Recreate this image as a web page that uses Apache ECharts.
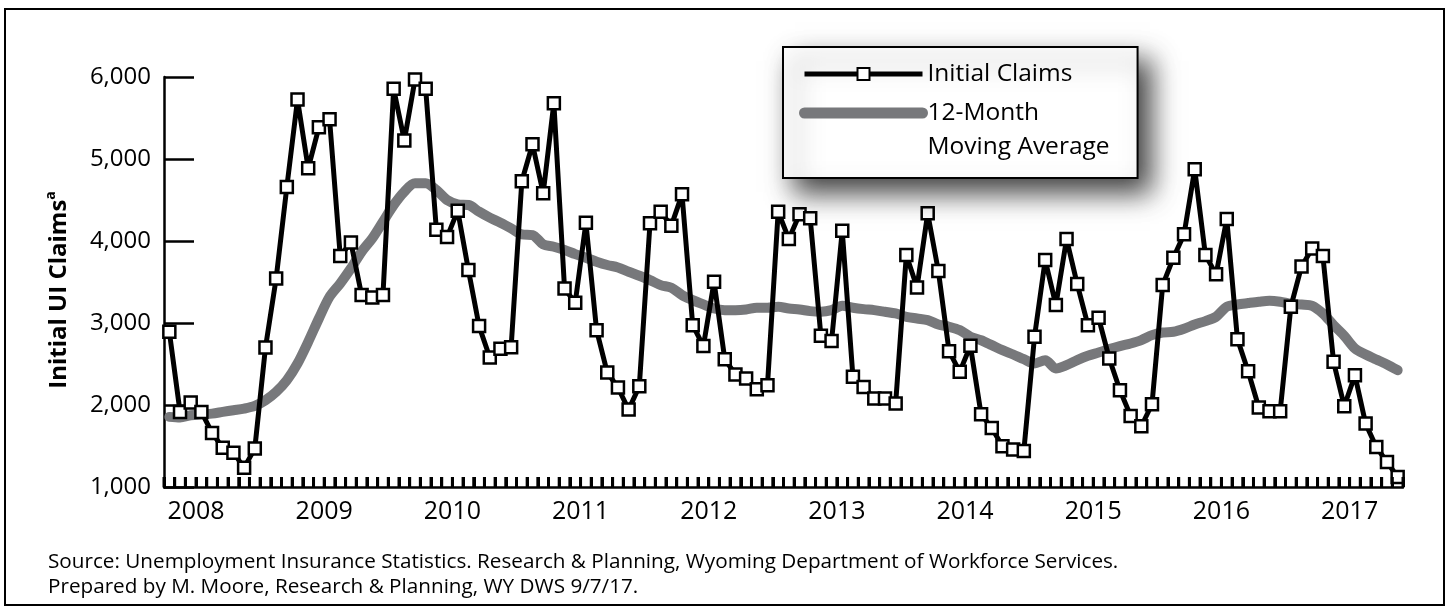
<!DOCTYPE html>
<html>
<head>
<meta charset="utf-8">
<script src="https://cdn.jsdelivr.net/npm/echarts@6/dist/echarts.min.js"></script>
<style>
  html, body { margin: 0; padding: 0; background: #fff; }
  #chart { width: 1450px; height: 612px; }
</style>
</head>
<body>
<div id="chart"></div>
<script>
// monthly series, Oct 2007 .. May 2017
const startYear = 2007
const startMonth = 10
const yearLabels = ['2008', '2009', '2010', '2011', '2012', '2013', '2014', '2015', '2016', '2017']

const initialClaims = [
  2893, 1916, 2030,
  1916, 1659, 1480, 1419, 1236, 1468, 2701, 3544, 4659, 5725, 4887, 5387,
  5485, 3816, 3983, 3340, 3312, 3340, 5856, 5225, 5970, 5856, 4138, 4048,
  4370, 3646, 2962, 2579, 2685, 2705, 4728, 5180, 4582, 5681, 3422, 3247,
  4223, 2913, 2396, 2213, 1944, 2229, 4215, 4358, 4187, 4569, 2974, 2718,
  3503, 2559, 2372, 2323, 2193, 2241, 4358, 4024, 4325, 4276, 2844, 2779,
  4126, 2343, 2221, 2079, 2079, 2018, 3829, 3434, 4337, 3633, 2656, 2404,
  2722, 1887, 1720, 1497, 1456, 1440, 2832, 3768, 3218, 4024, 3475, 2974,
  3063, 2567, 2180, 1867, 1741, 2009, 3462, 3796, 4081, 4875, 3829, 3593,
  4268, 2803, 2412, 1969, 1924, 1924, 3198, 3690, 3910, 3816, 2526, 1985,
  2363, 1773, 1488, 1305, 1122
]

const movingAverage = [
  1855, 1847, 1875,
  1887, 1895, 1916, 1936, 1956, 1989, 2058, 2160, 2302, 2506, 2770, 3055,
  3320, 3483, 3666, 3869, 4032, 4236, 4439, 4602, 4704, 4704, 4622, 4500,
  4447, 4439, 4358, 4285, 4223, 4154, 4081, 4073, 3959, 3930, 3890, 3840,
  3796, 3747, 3707, 3678, 3625, 3576, 3523, 3462, 3430, 3340, 3279, 3226,
  3177, 3157, 3157, 3165, 3186, 3186, 3198, 3177, 3165, 3145, 3137, 3157,
  3210, 3186, 3169, 3157, 3137, 3116, 3076, 3055, 3035, 2982, 2954, 2913,
  2832, 2790, 2730, 2669, 2616, 2559, 2506, 2547, 2445, 2486, 2547, 2600,
  2640, 2681, 2718, 2750, 2791, 2852, 2884, 2893, 2930, 2982, 3023, 3076,
  3198, 3226, 3243, 3259, 3271, 3259, 3234, 3226, 3210, 3116, 2974, 2844,
  2689, 2616, 2555, 2494, 2424
]

let months = []
for (let i = 0; i < initialClaims.length; i++) {
  let m = startMonth - 1 + i
  let y = startYear + Math.floor(m / 12)
  months.push(y + '-' + String(m % 12 + 1).padStart(2, '0'))
}

const font = '"Open Sans", "DejaVu Sans", sans-serif'
let chart = echarts.init(document.getElementById('chart'), null, { renderer: 'canvas' })

// short tick at each month boundary, placed through the axis scales
function renderMonthTick(params, api) {
  let idx = api.value(0)
  let base = api.coord([idx, 1000])
  let half = api.size([1, 0])[0] / 2
  let lines = [{
    type: 'line',
    shape: { x1: base[0] - half, y1: base[1], x2: base[0] - half, y2: base[1] - 10 },
    style: { stroke: '#000', lineWidth: 3 }
  }]
  if (idx === months.length - 1) {
    lines.push({
      type: 'line',
      shape: { x1: base[0] + half, y1: base[1], x2: base[0] + half, y2: base[1] - 10 },
      style: { stroke: '#000', lineWidth: 3 }
    })
  }
  return { type: 'group', children: lines }
}

let option = {
  animation: false,
  backgroundColor: '#fff',
  textStyle: { fontFamily: font, color: '#000' },
  grid: { left: 164, right: 47, top: 77, bottom: 125 },
  legend: {
    orient: 'vertical',
    left: 783,
    top: 47,
    padding: [10, 28, 14, 16],
    itemWidth: 118,
    itemHeight: 15,
    itemGap: -29,
    itemTextGap: 21,
    backgroundColor: '#fff',
    borderColor: '#000',
    borderWidth: 2,
    shadowBlur: 26,
    shadowColor: 'rgba(0,0,0,0.75)',
    shadowOffsetX: 12,
    shadowOffsetY: 14,
    selectedMode: false,
    formatter: function (name) {
      // blank first line keeps "12-Month" level with the sample line
      return name === '12-Month Moving Average' ? ' \n12-Month\nMoving Average' : name
    },
    textStyle: { fontFamily: font, fontSize: 24.5, color: '#000', lineHeight: 34 },
    data: [
      { name: 'Initial Claims', lineStyle: { width: 5 } },
      {
        name: '12-Month Moving Average',
        lineStyle: { width: 11, cap: 'round' },
        itemStyle: { color: 'rgba(0,0,0,0)', borderWidth: 0 }
      }
    ]
  },
  xAxis: {
    type: 'category',
    data: months,
    boundaryGap: true,
    axisLine: { lineStyle: { color: '#000', width: 2.5 } },
    axisTick: {
      show: true,
      inside: true,
      interval: 0,
      length: 10,
      lineStyle: { color: '#000', width: 3 }
    },
    axisLabel: {
      interval: function (index) { return index % 12 === 3 },
      formatter: function (value) {
        let y = value.slice(0, 4)
        return yearLabels.indexOf(y) >= 0 ? y : ''
      },
      fontFamily: font,
      fontSize: 25,
      color: '#000',
      margin: 12,
      padding: [0, 10.7, 0, 0]
    },
    splitLine: { show: false }
  },
  yAxis: {
    type: 'value',
    min: 1000,
    max: 6000,
    interval: 1000,
    name: '{b|Initial UI Claims}{s|a}',
    nameLocation: 'middle',
    nameRotate: 90,
    nameGap: 90,
    nameTextStyle: {
      padding: [0, 16, 0, 0],
      rich: {
        b: { fontFamily: font, fontSize: 24, fontWeight: 'bold', color: '#000', lineHeight: 30 },
        s: { fontFamily: font, fontSize: 14, fontWeight: 'bold', color: '#000', verticalAlign: 'top', lineHeight: 30 }
      }
    },
    axisLine: { show: true, lineStyle: { color: '#000', width: 2.5 } },
    axisTick: { show: true, inside: true, length: 30, lineStyle: { color: '#000', width: 2.5 } },
    axisLabel: {
      fontFamily: font,
      fontSize: 24,
      color: '#000',
      margin: 13,
      formatter: function (v) { return v.toLocaleString('en-US') }
    },
    splitLine: { show: false }
  },
  series: [
    {
      name: 'ticks',
      type: 'custom',
      silent: true,
      clip: false,
      z: 4,
      renderItem: renderMonthTick,
      data: months.map(function (m, i) { return [i] })
    },
    {
      name: '12-Month Moving Average',
      type: 'line',
      data: movingAverage,
      symbol: 'none',
      smooth: 0.3,
      z: 2,
      lineStyle: { color: '#77787b', width: 10, cap: 'round', join: 'round' },
      itemStyle: { color: '#77787b' }
    },
    {
      name: 'Initial Claims',
      type: 'line',
      data: initialClaims,
      symbol: 'rect',
      symbolSize: 12,
      showAllSymbol: true,
      z: 3,
      lineStyle: { color: '#000', width: 5, join: 'round' },
      itemStyle: { color: '#fff', borderColor: '#000', borderWidth: 2.5 }
    }
  ],
  graphic: [
    {
      type: 'rect',
      shape: { x: 5, y: 9, width: 1439, height: 596 },
      style: { fill: null, stroke: '#000', lineWidth: 2 },
      silent: true,
      z: -1
    },
    {
      type: 'text',
      left: 48,
      top: 550,
      style: {
        text: 'Source: Unemployment Insurance Statistics. Research & Planning, Wyoming Department of Workforce Services.\nPrepared by M. Moore, Research & Planning, WY DWS 9/7/17.',
        fontFamily: font,
        fontSize: 20.7,
        lineHeight: 25,
        fill: '#000'
      }
    }
  ]
}

chart.setOption(option)
</script>
</body>
</html>
